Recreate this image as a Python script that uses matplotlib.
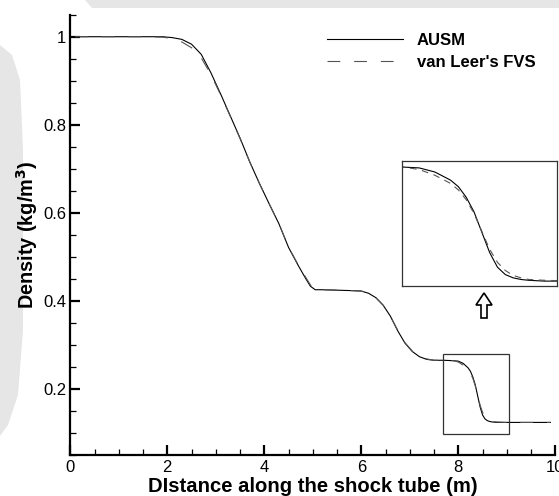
import matplotlib
matplotlib.use("Agg")
import matplotlib.pyplot as plt
from matplotlib.patches import Rectangle, Polygon
from matplotlib.ticker import MultipleLocator, FixedLocator, FixedFormatter

plt.rcParams['font.family'] = ['Liberation Sans', 'DejaVu Sans']

# ---- data ----
x_pos = [0.1, 1.5, 1.9, 2.1, 2.3, 2.5, 2.7, 2.9, 3.1, 3.3, 3.5, 3.7, 3.9, 4.1,
         4.3, 4.5, 4.7, 4.85, 4.95, 5.05, 5.2, 5.5, 5.8, 6.0, 6.15, 6.3, 6.45,
         6.6, 6.75, 6.9, 7.05, 7.2, 7.35, 7.5, 7.7, 7.9, 8.0, 8.1, 8.2, 8.25,
         8.3, 8.35, 8.4, 8.45, 8.5, 8.55, 8.6, 8.65, 8.7, 8.8, 9.0, 9.9]
rho_ausm = [1.0, 1.0, 1.0, 0.998, 0.994, 0.983, 0.960, 0.918, 0.870, 0.820,
            0.770, 0.716, 0.667, 0.621, 0.576, 0.522, 0.481, 0.452, 0.434,
            0.426, 0.426, 0.425, 0.424, 0.423, 0.418, 0.408, 0.391, 0.366,
            0.333, 0.305, 0.286, 0.274, 0.268, 0.266, 0.266, 0.265, 0.264,
            0.259, 0.249, 0.241, 0.228, 0.210, 0.185, 0.160, 0.142, 0.133,
            0.129, 0.127, 0.126, 0.125, 0.125, 0.125]
rho_vanleer = [1.0, 1.0, 0.999, 0.996, 0.988, 0.975, 0.952, 0.914, 0.868,
               0.819, 0.769, 0.716, 0.667, 0.621, 0.576, 0.523, 0.482, 0.455,
               0.437, 0.428, 0.426, 0.425, 0.424, 0.423, 0.418, 0.408, 0.391,
               0.366, 0.334, 0.306, 0.287, 0.275, 0.269, 0.266, 0.266, 0.265,
               0.262, 0.255, 0.245, 0.237, 0.225, 0.208, 0.186, 0.164, 0.148,
               0.138, 0.132, 0.129, 0.127, 0.126, 0.125, 0.125]
x_ticks = [0, 2, 4, 6, 8, 10]
x_labels = ["0", "2", "4", "6", "8", "10"]
y_ticks = [0.2, 0.4, 0.6, 0.8, 1.0]
y_labels = ["0.2", "0.4", "0.6", "0.8", "1"]
series_names = ["AUSM", "van Leer's FVS"]
zoom_box = (7.68, 0.099, 9.045, 0.280)   # x0, y0, x1, y1 of the marked region
inset_xlim = (7.89, 8.88)
inset_ylim = (0.119, 0.2725)

W, H = 559, 496
fig = plt.figure(figsize=(W / 100, H / 100), dpi=100)


def px(pts):
    return [(x / 100, (H - y) / 100) for x, y in pts]


# light watermark patches in the background (behind everything)
bg = '#e6e6e6'
fig.patches.append(Polygon(px([(0, 45), (12, 55), (20, 80), (23, 150), (23, 330),
                               (18, 395), (8, 425), (0, 436)]),
                           closed=True, transform=fig.dpi_scale_trans,
                           facecolor=bg, edgecolor='none', zorder=-5))
fig.patches.append(Polygon(px([(85, 0), (559, 0), (559, 7.5), (92, 7.5)]),
                           closed=True, transform=fig.dpi_scale_trans,
                           facecolor=bg, edgecolor='none', zorder=-5))

ax = fig.add_axes([70.3 / W, 0.0817, (555.3 - 70.3) / W, 0.8887])
ax.patch.set_alpha(0)

dash = (11.5, 12.5)
ax.plot(x_pos, rho_ausm, color='black', lw=0.8, label=series_names[0])
ax.plot(x_pos, rho_vanleer, color='#555555', lw=0.8, ls=(0, dash),
        label=series_names[1])

ax.set_xlim(0, 10)
ax.set_ylim(0.05, 1.05)
ax.xaxis.set_major_locator(FixedLocator(x_ticks))
ax.xaxis.set_major_formatter(FixedFormatter(x_labels))
ax.yaxis.set_major_locator(FixedLocator(y_ticks))
ax.yaxis.set_major_formatter(FixedFormatter(y_labels))
ax.xaxis.set_minor_locator(MultipleLocator(0.5))
ax.yaxis.set_minor_locator(MultipleLocator(0.05))
ax.tick_params(which='major', direction='in', length=7.5, width=1.6,
               labelsize=12, pad=3)
ax.tick_params(which='minor', direction='in', length=4.5, width=0.9)
for s in ['top', 'right']:
    ax.spines[s].set_visible(False)
for s in ['left', 'bottom']:
    ax.spines[s].set_linewidth(1.6)

ax.set_xlabel("DIstance along the shock tube (m)", fontsize=14.6,
              fontweight='bold', va='baseline')
ax.xaxis.set_label_coords(0.5, -0.0828)
ax.set_ylabel("Density (kg/m$^\\mathbf{3}$)", fontsize=14.3,
              fontweight='bold')
ax.yaxis.set_label_coords(-0.0627, 0.5)

ax.legend(loc='upper left', bbox_to_anchor=(0.495, 0.996), frameon=False,
          prop={'weight': 'bold', 'size': 12}, handlelength=4.56,
          handletextpad=0.84, labelspacing=0.42, borderaxespad=0.6)

# zoom rectangle on the main plot
ax.add_patch(Rectangle((zoom_box[0], zoom_box[1]), zoom_box[2] - zoom_box[0],
                       zoom_box[3] - zoom_box[1], fill=False,
                       edgecolor='#333333', lw=0.9, zorder=3))

# inset
ins = fig.add_axes([402 / W, (H - 286) / H, 155 / W, 125 / H])
ins.plot(x_pos, rho_ausm, color='black', lw=0.8)
ins.plot(x_pos, rho_vanleer, color='#555555', lw=0.8, ls=(0, (6, 5)))
ins.set_xlim(*inset_xlim)
ins.set_ylim(*inset_ylim)
ins.set_xticks([])
ins.set_yticks([])
for s in ins.spines.values():
    s.set_linewidth(0.9)
    s.set_edgecolor('#333333')

# hollow up arrow
arrow = px([(484, 293), (492, 305), (487, 305), (487, 318), (481, 318),
            (481, 305), (476, 305)])
fig.patches.append(Polygon(arrow, closed=True, transform=fig.dpi_scale_trans,
                           facecolor='white', edgecolor='black', lw=1.2,
                           zorder=5))

fig.savefig("out.png", dpi=100)
